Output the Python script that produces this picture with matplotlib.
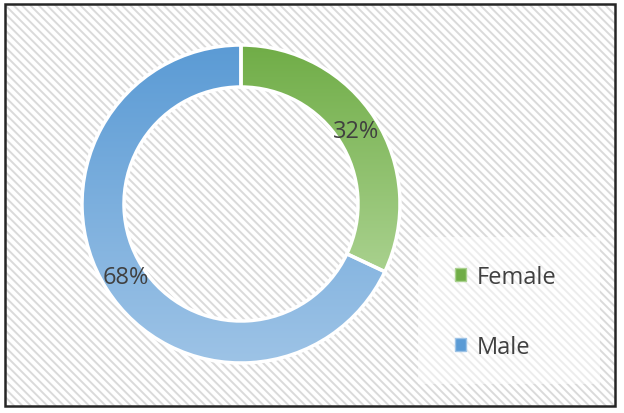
import numpy as np
import matplotlib
matplotlib.use('Agg')
import matplotlib.pyplot as plt
from matplotlib.patches import Rectangle, Patch
from matplotlib.colors import LinearSegmentedColormap

# ── data ──
labels = ['Female', 'Male']
shares = [32, 68]
top_colors = ['#70AD47', '#5B9BD5']
bottom_colors = ['#A9D18E', '#9DC3E6']

plt.rcParams['font.family'] = ['Open Sans', 'DejaVu Sans']
plt.rcParams['hatch.linewidth'] = 1.4

W, H = 624, 414
fig = plt.figure(figsize=(W / 100, H / 100), dpi=100)
ax = fig.add_axes([0, 0, 1, 1])

# hatched chart area + outer border
bg = Rectangle((5, 7), 610, 402, facecolor='white', edgecolor='#DADADA',
               hatch='\\\\\\\\', linewidth=0, zorder=0)
ax.add_patch(bg)
ax.add_patch(Rectangle((5, 7), 610, 402, facecolor='none', edgecolor='#262626',
                       linewidth=1.8, zorder=10))

# doughnut
cx, cy, R = 241, 209, 159
wedges, texts, autotexts = ax.pie(
    shares, startangle=90, counterclock=False, radius=R, center=(cx, cy),
    colors=['none', 'none'], autopct='%1.0f%%', pctdistance=0.86,
    wedgeprops=dict(width=42, edgecolor='white', linewidth=2.5),
    textprops=dict(fontsize=17, color='#404040'), frame=True)

for w, c0, c1 in zip(wedges, top_colors, bottom_colors):
    w.set_zorder(3)
    ext = w.get_path().get_extents()
    cmap = LinearSegmentedColormap.from_list('g', [c1, c0])
    grad = np.linspace(0, 1, 256).reshape(-1, 1)
    im = ax.imshow(grad, cmap=cmap, origin='lower', aspect='auto',
                   extent=(ext.x0, ext.x1, ext.y0, ext.y1), zorder=2)
    im.set_clip_path(w)
for t in autotexts:
    t.set_zorder(5)

# legend box
ax.add_patch(Rectangle((418, 29), 182, 147, facecolor='white', alpha=0.5,
                       edgecolor='none', zorder=1))
handles = [Patch(facecolor=c, edgecolor=c1) for c, c1 in zip(top_colors, bottom_colors)]
ax.legend(handles, labels, loc='center left', bbox_to_anchor=(455 / W, 1 - 313 / H),
          bbox_transform=fig.transFigure, frameon=False, fontsize=17,
          handlelength=0.47, handleheight=0.47, handletextpad=0.45,
          labelspacing=1.95, borderpad=0, borderaxespad=0, labelcolor='#404040')

ax.set_xlim(0, W)
ax.set_ylim(0, H)
ax.set_aspect('equal')
ax.axis('off')

fig.savefig('out.png', dpi=100)
